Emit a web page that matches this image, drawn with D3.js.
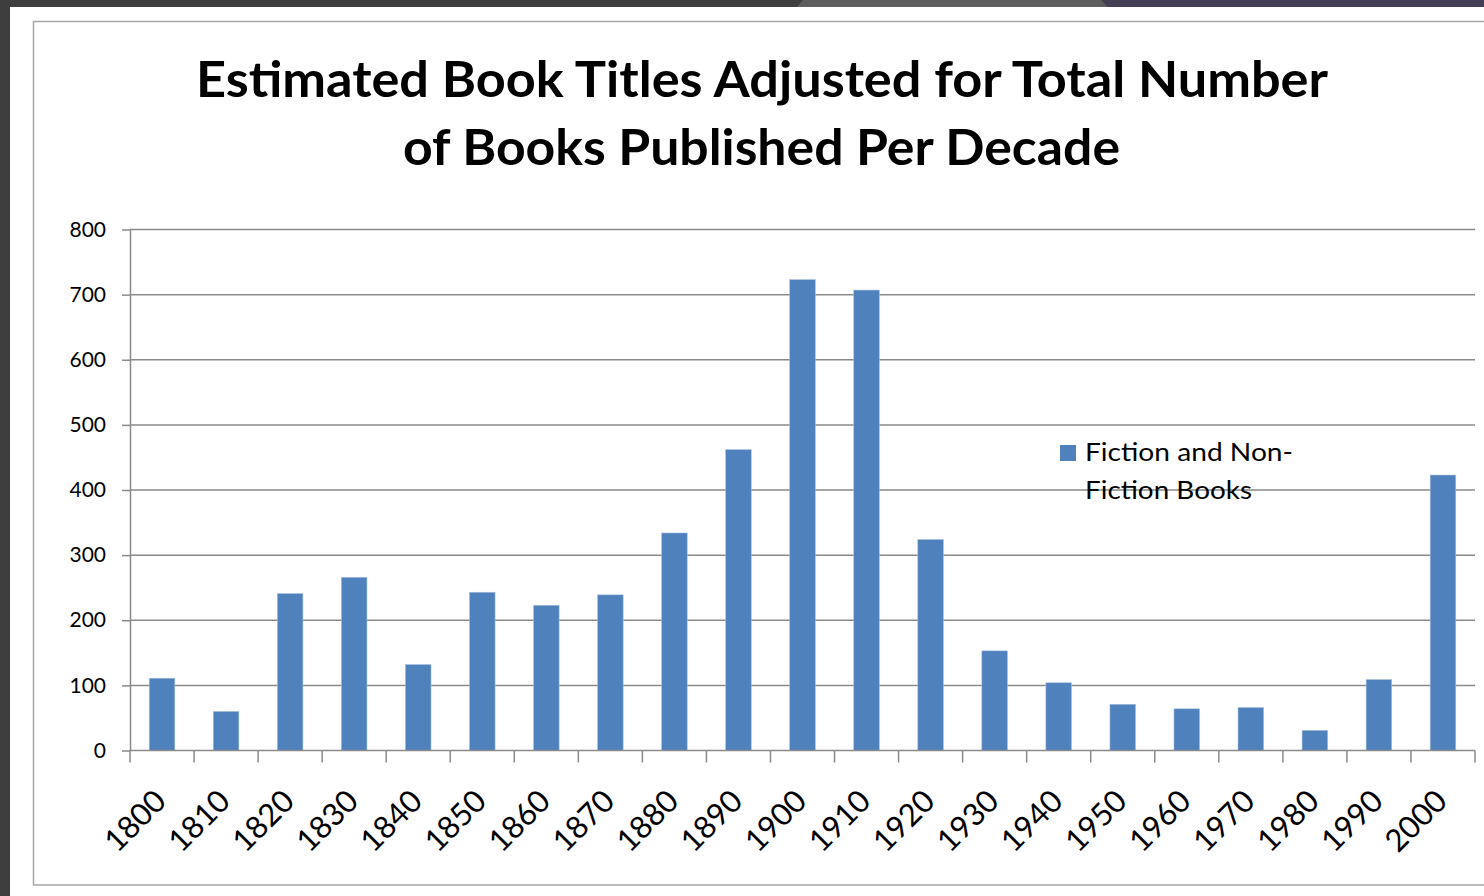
<!DOCTYPE HTML>
<html>
<head>
<meta charset="utf-8" />
<script src="https://d3js.org/d3.v7.min.js"></script>
<style>
body { margin: 0; background: #3e3e3e; overflow: hidden; }
text { font-family: Lato, "Open Sans", sans-serif; }
</style>
</head>
<body>
<svg id="chart" width="1484" height="896"></svg>
<script>
// data
var decades = ["1800","1810","1820","1830","1840","1850","1860","1870","1880","1890","1900",
               "1910","1920","1930","1940","1950","1960","1970","1980","1990","2000"];
var titles = [111, 60, 241, 266, 132, 243, 223, 239, 334, 462, 723,
              707, 324, 153, 104, 71, 64, 66, 31, 109, 423];
var yTicks = [0, 100, 200, 300, 400, 500, 600, 700, 800];
var titleLines = ["Estimated Book Titles Adjusted for Total Number", "of Books Published Per Decade"];
var legendLines = ["Fiction and Non-", "Fiction Books"];

var svg = d3.select("#chart");
var barColor = "#4f81bd";
var gridColor = "#8a8a8a";

// screen background bits
svg.append("rect").attr("x", 0).attr("y", 0).attr("width", 1484).attr("height", 896).attr("fill", "#3e3e3e");
svg.append("polygon").attr("points", "797,7 803,0 1101,0 1108,7").attr("fill", "#5e5e5e");
svg.append("polygon").attr("points", "1108,7 1101,0 1484,0 1484,7").attr("fill", "#453f55");
svg.append("rect").attr("x", 10).attr("y", 7).attr("width", 1474).attr("height", 889).attr("fill", "#fff");

// chart frame
svg.append("rect").attr("x", 33.5).attr("y", 21.5).attr("width", 1500).attr("height", 863.5)
   .attr("fill", "none").attr("stroke", "#a6a6a6").attr("stroke-width", 1.5);

// title
var tl = [{x: 196, y: 97, len: 1132}, {x: 403, y: 165, len: 717}];
svg.selectAll(".title").data(titleLines).enter().append("text")
   .attr("class", "title")
   .attr("x", function(d, i) { return tl[i].x; })
   .attr("y", function(d, i) { return tl[i].y; })
   .attr("textLength", function(d, i) { return tl[i].len; })
   .attr("lengthAdjust", "spacingAndGlyphs")
   .attr("font-size", 49).attr("font-weight", "bold").attr("fill", "#000")
   .text(function(d) { return d; });

var left = 130, right = 1475;
var x = d3.scaleBand().domain(decades).range([left, right]).paddingInner(0.6).paddingOuter(0.3);
var y = d3.scaleLinear().domain([0, 800]).range([750.5, 229.5]);

// gridlines
svg.append("g").selectAll("line").data(yTicks.slice(1)).enter().append("line")
   .attr("x1", left).attr("x2", right)
   .attr("y1", function(d) { return y(d); }).attr("y2", function(d) { return y(d); })
   .attr("stroke", gridColor).attr("stroke-width", 1.5);

// y axis
var yAxis = svg.append("g").attr("transform", "translate(" + left + ",0)")
   .call(d3.axisLeft(y).tickValues(yTicks).tickSize(8).tickSizeOuter(0).tickPadding(16));
yAxis.selectAll("path, line").attr("stroke", gridColor).attr("stroke-width", 1.5);
yAxis.selectAll("text").attr("font-size", 21).attr("fill", "#000")
   .style("font-family", "Lato, 'Open Sans', sans-serif");

// bars
svg.append("g").selectAll("rect").data(decades).enter().append("rect")
   .attr("x", function(d) { return x(d); })
   .attr("y", function(d, i) { return y(titles[i]); })
   .attr("width", x.bandwidth())
   .attr("height", function(d, i) { return y(0) - y(titles[i]); })
   .attr("fill", barColor).attr("stroke", "#a9c1e0").attr("stroke-width", 0.6);

// x axis line and ticks at category boundaries
var step = x.step();
var bounds = d3.range(decades.length + 1).map(function(i) { return left + i * step; });
svg.append("line").attr("x1", left).attr("x2", right).attr("y1", y(0)).attr("y2", y(0))
   .attr("stroke", gridColor).attr("stroke-width", 1.5);
svg.append("g").selectAll("line").data(bounds).enter().append("line")
   .attr("x1", function(d) { return d; }).attr("x2", function(d) { return d; })
   .attr("y1", y(0)).attr("y2", y(0) + 12)
   .attr("stroke", gridColor).attr("stroke-width", 1.5);

// rotated decade labels
svg.append("g").selectAll("text").data(decades).enter().append("text")
   .attr("transform", function(d) {
       return "translate(" + (x(d) + x.bandwidth() / 2 + 6) + ",803) rotate(-45)";
   })
   .attr("text-anchor", "end").attr("font-size", 31).attr("fill", "#000")
   .text(function(d) { return d; });

// legend (no background, gridline runs through it)
var legLen = [208, 167];
svg.append("rect").attr("x", 1060).attr("y", 445).attr("width", 16).attr("height", 16).attr("fill", barColor);
svg.selectAll(".leg").data(legendLines).enter().append("text")
   .attr("class", "leg")
   .attr("x", 1085).attr("y", function(d, i) { return 461 + i * 38; })
   .attr("textLength", function(d, i) { return legLen[i]; })
   .attr("lengthAdjust", "spacingAndGlyphs")
   .attr("font-size", 25).attr("fill", "#000")
   .text(function(d) { return d; });
</script>
</body>
</html>
